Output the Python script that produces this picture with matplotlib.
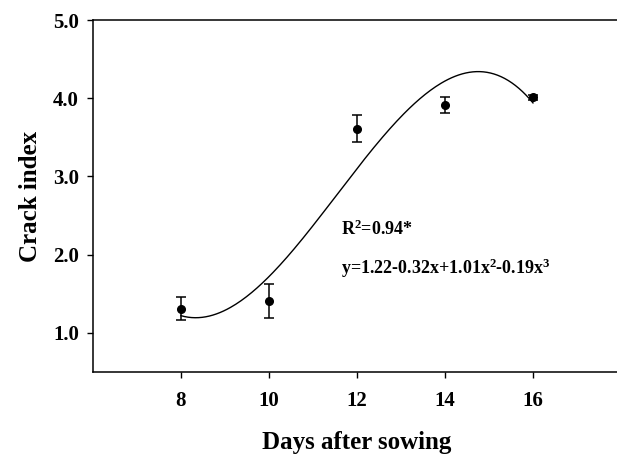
import numpy as np
import matplotlib
matplotlib.use('Agg')
import matplotlib.pyplot as plt

# measured crack index (mean +/- error) by days after sowing
days = [8, 10, 12, 14, 16]
crack_index = [1.31, 1.41, 3.61, 3.91, 4.01]
crack_err = [0.15, 0.22, 0.17, 0.10, 0.03]

# cubic fit printed on the chart, x = (day - 8) / 2
fit_coef = [1.22, -0.32, 1.01, -0.19]
fit_label_r2 = r'R$^{2}$=0.94*'
fit_label_eq = r'y=1.22-0.32x+1.01x$^{2}$-0.19x$^{3}$'

plt.rcParams['font.family'] = ['Liberation Serif']
plt.rcParams['font.weight'] = 'bold'
plt.rcParams['mathtext.fontset'] = 'custom'
plt.rcParams['mathtext.rm'] = 'Liberation Serif:bold'
plt.rcParams['mathtext.it'] = 'Liberation Serif:bold'
plt.rcParams['mathtext.bf'] = 'Liberation Serif:bold'

fig = plt.figure(figsize=(6.17, 4.58), dpi=100)
ax = fig.add_axes([93 / 617, 86 / 458, 528 / 617, 352 / 458])

ax.errorbar(days, crack_index, yerr=crack_err, fmt='o', color='black',
            markersize=5.5, capsize=3.8, elinewidth=1.1, capthick=1.1, zorder=3)

d = np.linspace(days[0], days[-1], 200)
xs = (d - days[0]) / 2
ax.plot(d, np.polyval(fit_coef[::-1], xs), color='black', linewidth=1.0)

ax.text(11.63, 2.32, fit_label_r2, fontsize=13, va='center', ha='left')
ax.text(11.63, 1.82, fit_label_eq, fontsize=13, va='center', ha='left')

ax.set_xlim(6, 18)
ax.set_ylim(0.5, 5.0)
ax.set_xticks(days)
ax.set_yticks([1, 2, 3, 4, 5])
ax.set_yticklabels(['1.0', '2.0', '3.0', '4.0', '5.0'])
ax.tick_params(direction='out', length=4, width=1, labelsize=15, pad=6)
ax.tick_params(axis='x', pad=10)
for s in ax.spines.values():
    s.set_linewidth(1.1)

ax.set_xlabel('Days after sowing', fontsize=18, fontweight='bold', labelpad=14)
ax.set_ylabel('Crack index', fontsize=18, fontweight='bold', labelpad=8)

fig.savefig('out.png', dpi=100)
